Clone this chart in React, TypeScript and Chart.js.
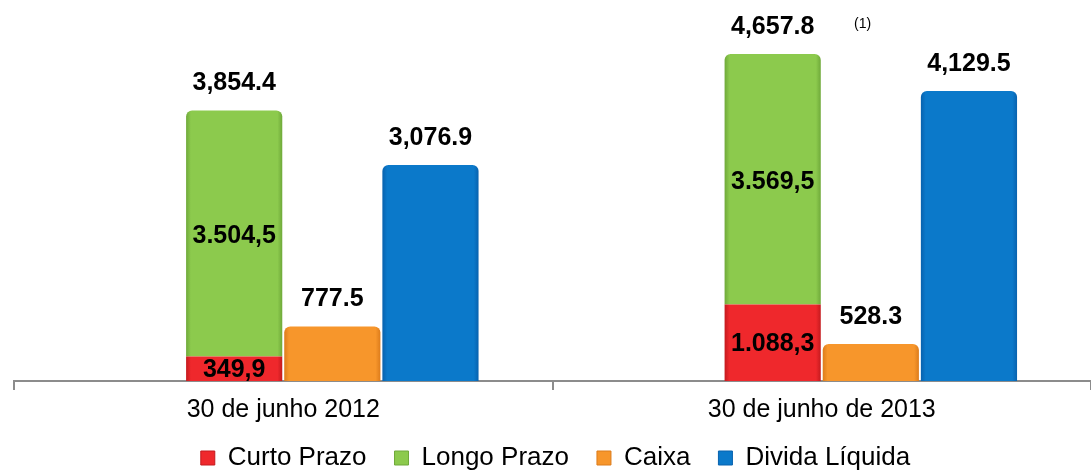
import React, { useEffect, useRef } from 'react';
import { Chart, registerables } from 'chart.js';
Chart.register(...registerables);

const categories = ['30 de junho 2012', '30 de junho de 2013'];
const curtoPrazo = [349.9, 1088.3];
const longoPrazo = [3504.5, 3569.5];
const caixa = [777.5, 528.3];
const dividaLiquida = [3076.9, 4129.5];
const curtoLabels = ['349,9', '1.088,3'];
const longoLabels = ['3.504,5', '3.569,5'];
const totalLabels = ['3,854.4', '4,657.8'];
const caixaLabels = ['777.5', '528.3'];
const dividaLabels = ['3,076.9', '4,129.5'];
const footnotes = ['', '(1)'];
const seriesNames = ['Curto Prazo', 'Longo Prazo', 'Caixa', 'Divida Líquida'];
const seriesColors = ['#EF282C', '#8CCA4D', '#F7962B', '#0B79CA'];
const edgeColors = ['#C41A1E', '#6FA93A', '#DC7C1C', '#0862AE'];

const FONT = "'Liberation Sans', Arial, sans-serif";

const shadePlugin = {
  id: 'barShade',
  afterLayout(chart: any) {
    // let tick label descenders extend below the axis box instead of being clipped
    const x = chart.scales.x;
    if (x) x.bottom = chart.height;
  },
  beforeDatasetsDraw(chart: any) {
    const ctx = chart.ctx;
    for (let d = 1; d <= 4; d++) {
      const meta = chart.getDatasetMeta(d);
      meta.data.forEach((el: any) => {
        const left = el.x - el.width / 2;
        const right = el.x + el.width / 2;
        const g = ctx.createLinearGradient(left, 0, right, 0);
        g.addColorStop(0, edgeColors[d - 1]);
        g.addColorStop(0.05, seriesColors[d - 1]);
        g.addColorStop(0.95, seriesColors[d - 1]);
        g.addColorStop(1, edgeColors[d - 1]);
        el.options.backgroundColor = g;
      });
    }
  },
};

const labelPlugin = {
  id: 'valueLabels',
  afterDatasetsDraw(chart: any) {
    const ctx = chart.ctx;
    ctx.save();
    ctx.fillStyle = '#000';
    ctx.textAlign = 'center';
    ctx.textBaseline = 'middle';
    ctx.font = `bold 25px ${FONT}`;
    const red = chart.getDatasetMeta(1).data;
    const green = chart.getDatasetMeta(2).data;
    const orange = chart.getDatasetMeta(3).data;
    const blue = chart.getDatasetMeta(4).data;
    for (let i = 0; i < categories.length; i++) {
      const r = red[i], g = green[i], o = orange[i], b = blue[i];
      ctx.fillText(curtoLabels[i], r.x, (r.y + r.base) / 2 + 1);
      ctx.fillText(longoLabels[i], g.x, (g.y + g.base) / 2 + 3);
      ctx.fillText(totalLabels[i], g.x, g.y - 27);
      ctx.fillText(caixaLabels[i], o.x, o.y - 27);
      ctx.fillText(dividaLabels[i], b.x, b.y - 27);
      if (footnotes[i]) {
        ctx.save();
        ctx.font = `14px ${FONT}`;
        ctx.fillText(footnotes[i], g.x + 90, g.y - 30);
        ctx.restore();
      }
    }
    ctx.restore();
  },
};

const topRadius = { topLeft: 6, topRight: 6, bottomLeft: 0, bottomRight: 0 };
const colorFn = (k: number) => () => seriesColors[k];

export default function App() {
  const ref = useRef<HTMLCanvasElement | null>(null);
  useEffect(() => {
    document.body.style.margin = '0';
    const chart = new Chart(ref.current as HTMLCanvasElement, {
      type: 'bar',
      data: {
        labels: categories,
        datasets: [
          { label: '', data: [null, null] as any, stack: 'spacer', backgroundColor: 'rgba(0,0,0,0)' },
          { label: seriesNames[0], data: curtoPrazo, stack: 'divida', backgroundColor: colorFn(0) as any, borderRadius: 0 },
          { label: seriesNames[1], data: longoPrazo, stack: 'divida', backgroundColor: colorFn(1) as any, borderRadius: topRadius, borderSkipped: false as any },
          { label: seriesNames[2], data: caixa, stack: 'caixa', backgroundColor: colorFn(2) as any, borderRadius: topRadius, borderSkipped: false as any },
          { label: seriesNames[3], data: dividaLiquida, stack: 'liquida', backgroundColor: colorFn(3) as any, borderRadius: topRadius, borderSkipped: false as any },
        ],
      },
      options: {
        animation: false,
        responsive: false,
        layout: { padding: { left: 14, right: -6, top: 0, bottom: 0 } },
        datasets: { bar: { categoryPercentage: 0.729, barPercentage: 0.98, borderWidth: 0 } },
        scales: {
          x: {
            stacked: true,
            offset: true,
            border: { display: true, color: '#8C8C8C', width: 2 },
            grid: { offset: true, drawOnChartArea: false, drawTicks: true, tickLength: 9, color: '#8C8C8C', lineWidth: 2 },
            ticks: { color: '#000', font: { family: FONT, size: 25, lineHeight: 1.2 }, padding: 5 },
            afterFit: (scale: any) => { scale.height = 36; },
          },
          y: { stacked: true, display: false, min: 0, max: 5427 },
        },
        plugins: {
          legend: {
            position: 'bottom',
            maxHeight: 53,
            labels: {
              color: '#000',
              font: { family: FONT, size: 26 },
              boxWidth: 14,
              boxHeight: 14,
              padding: 28,
              generateLabels: (c: any) => {
                const items = Chart.defaults.plugins.legend.labels.generateLabels(c);
                return items
                  .filter((it: any) => it.text !== '')
                  .map((it: any) => ({ ...it, fillStyle: seriesColors[it.datasetIndex - 1], strokeStyle: edgeColors[it.datasetIndex - 1], lineWidth: 1 }));
              },
            },
          },
          tooltip: { enabled: false },
        },
      },
      plugins: [shadePlugin, labelPlugin],
    });
    return () => chart.destroy();
  }, []);
  return (
    <div style={{ width: 1091, height: 470 }}>
      <canvas ref={ref} width={1091} height={470} />
    </div>
  );
}
